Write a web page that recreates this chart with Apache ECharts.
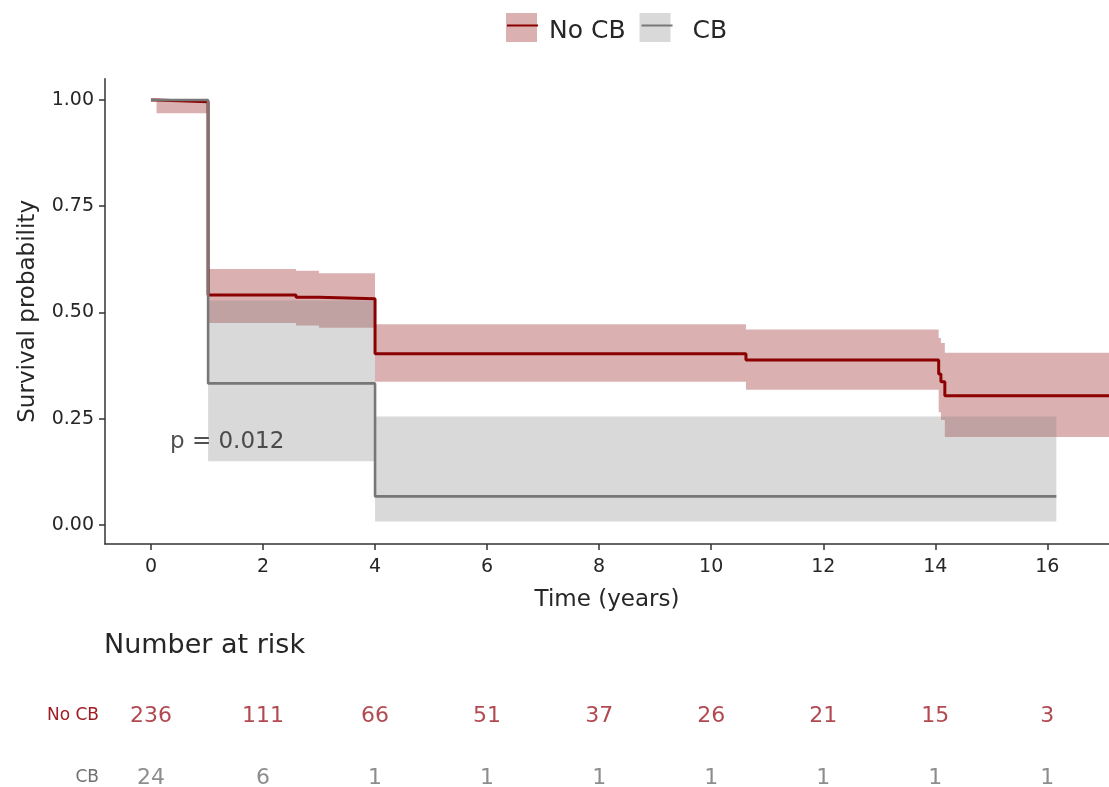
<!DOCTYPE html>
<html>
<head>
<meta charset="utf-8">
<script src="https://cdn.jsdelivr.net/npm/echarts@6.0.0/dist/echarts.min.js"></script>
<style>
  html, body { margin: 0; padding: 0; background: #fff; }
  #chart { width: 1109px; height: 787px; }
</style>
</head>
<body>
<div id="chart"></div>
<script>
// Kaplan-Meier estimates (time in years), step values hold until the next time point.
// The last entry of each group marks the end of follow-up.
const NOCB_TIME  = [0, 0.10, 1.02, 2.59, 3.00, 4.00, 10.62, 14.06, 14.10, 14.17, 17.10];
const NOCB_SURV  = [1.000, 0.996, 0.541, 0.536, 0.532, 0.403, 0.388, 0.355, 0.337, 0.304, 0.304];
const NOCB_LOWER = [1.000, 0.969, 0.475, 0.469, 0.464, 0.337, 0.318, 0.265, 0.247, 0.207, 0.207];
const NOCB_UPPER = [1.000, 1.000, 0.602, 0.598, 0.592, 0.472, 0.460, 0.440, 0.428, 0.405, 0.405];

const CB_TIME  = [0, 1.02, 4.00, 16.16];
const CB_SURV  = [1.000, 0.333, 0.067, 0.067];
const CB_LOWER = [1.000, 0.150, 0.008, 0.008];
const CB_UPPER = [1.000, 0.528, 0.255, 0.255];

// Number-at-risk table
const RISK_TIME = [0, 2, 4, 6, 8, 10, 12, 14, 16];
const RISK_NOCB = [236, 111, 66, 51, 37, 26, 21, 15, 3];
const RISK_CB   = [24, 6, 1, 1, 1, 1, 1, 1, 1];
const RISK_ROWS = ['CB', 'No CB'];   // row 0 at the bottom, row 1 above it

const X_TICKS = [0, 2, 4, 6, 8, 10, 12, 14, 16];
const Y_TICKS = [0, 0.25, 0.5, 0.75, 1];

const P_TEXT = 'p = 0.012';
const P_AT = [0.34, 0.195];

// styling
const FONT = 'DejaVu Sans';
const RED = '#8b0000';
const GRAY = '#777777';
const RED_BAND = 'rgba(139,0,0,0.31)';
const GRAY_BAND = 'rgba(128,128,128,0.30)';
const RED_TEXT = '#9e1c24';
const GRAY_TEXT = '#707070';
const INK = '#262626';
const CLEAR = 'rgba(0,0,0,0)';
const X_RANGE = [-0.82, 17.1];

const pts = (xs, ys) => xs.map((t, i) => [t, ys[i]]);

// Confidence band drawn as one stepped polygon (upper edge forward, lower edge back)
function bandSeries(name, times, lower, upper, color) {
  return {
    name: name, type: 'custom', silent: true, clip: true, z: 1,
    xAxisIndex: 0, yAxisIndex: 0,
    data: [[times[0], upper[0]]],
    renderItem: (params, api) => {
      const top = [], bottom = [];
      for (let i = 0; i < times.length - 1; i++) {
        top.push(api.coord([times[i], upper[i]]), api.coord([times[i + 1], upper[i]]));
        bottom.push(api.coord([times[i], lower[i]]), api.coord([times[i + 1], lower[i]]));
      }
      return {
        type: 'polygon',
        shape: { points: top.concat(bottom.reverse()) },
        style: { fill: color }
      };
    }
  };
}

// Legend: swatch layer, line layer and text layer share one layout
const legendBase = {
  left: 506, top: 13, orient: 'horizontal', padding: 0,
  itemWidth: 31, itemHeight: 29, itemGap: 14,
  selectedMode: false,
  textStyle: { fontFamily: FONT, fontSize: 25, color: CLEAR, padding: [0, 0, 0, 7] }
};
const CB_LEGEND_TEXT = { padding: [0, 0, 0, 17] };

const chart = echarts.init(document.getElementById('chart'), null, { renderer: 'canvas' });

chart.setOption({
  animation: false,
  backgroundColor: '#ffffff',
  title: {
    text: 'Number at risk', left: 104, top: 632, padding: 0,
    textStyle: { fontFamily: FONT, fontSize: 27, fontWeight: 'normal', color: INK }
  },
  legend: [
    Object.assign({}, legendBase, {
      icon: 'rect', symbolKeepAspect: false,
      itemStyle: { borderWidth: 0 },
      data: [
        { name: 'No CB', itemStyle: { color: RED_BAND } },
        { name: 'CB', itemStyle: { color: GRAY_BAND }, textStyle: CB_LEGEND_TEXT }
      ]
    }),
    Object.assign({}, legendBase, {
      itemStyle: { color: CLEAR, borderWidth: 0 },
      data: [
        { name: 'No CB' },
        { name: 'CB', textStyle: CB_LEGEND_TEXT }
      ]
    }),
    Object.assign({}, legendBase, {
      top: 17, icon: 'rect',
      itemStyle: { color: CLEAR, borderWidth: 0 },
      textStyle: Object.assign({}, legendBase.textStyle, { color: INK }),
      data: [
        { name: 'No CB' },
        { name: 'CB', textStyle: CB_LEGEND_TEXT }
      ]
    })
  ],
  grid: [
    { left: 105, right: 0, top: 78.75, bottom: 243 },
    { left: 105, right: 0, top: 683, bottom: 0 }
  ],
  xAxis: [
    {
      type: 'value', gridIndex: 0, min: X_RANGE[0], max: X_RANGE[1],
      axisLine: { show: true, onZero: false, lineStyle: { color: '#333', width: 1.5 } },
      axisTick: { show: true, length: 6, customValues: X_TICKS, lineStyle: { color: '#333', width: 1.5 } },
      axisLabel: { customValues: X_TICKS, fontFamily: FONT, fontSize: 19, color: INK, margin: 14 },
      splitLine: { show: false },
      name: 'Time (years)', nameLocation: 'middle', nameGap: 45,
      nameTextStyle: { fontFamily: FONT, fontSize: 23, color: INK }
    },
    { type: 'value', gridIndex: 1, min: X_RANGE[0], max: X_RANGE[1], show: false }
  ],
  yAxis: [
    {
      type: 'value', gridIndex: 0, min: -0.045, max: 1.05,
      axisLine: { show: true, onZero: false, lineStyle: { color: '#333', width: 1.5 } },
      axisTick: { show: true, length: 6, customValues: Y_TICKS, lineStyle: { color: '#333', width: 1.5 } },
      axisLabel: {
        customValues: Y_TICKS, formatter: v => v.toFixed(2),
        fontFamily: FONT, fontSize: 19, color: INK, margin: 11
      },
      splitLine: { show: false },
      name: 'Survival probability', nameLocation: 'middle', nameGap: 65,
      nameTextStyle: { fontFamily: FONT, fontSize: 23, color: INK }
    },
    {
      type: 'value', gridIndex: 1, min: -0.145, max: 1.532,
      axisLine: { show: false }, axisTick: { show: false }, splitLine: { show: false },
      axisLabel: {
        customValues: [0, 1], margin: 6,
        formatter: v => (v === 1 ? '{r|' + RISK_ROWS[1] + '}' : '{g|' + RISK_ROWS[0] + '}'),
        rich: {
          r: { fontFamily: FONT, fontSize: 17, color: RED_TEXT },
          g: { fontFamily: FONT, fontSize: 17, color: GRAY_TEXT }
        }
      }
    }
  ],
  series: [
    bandSeries('No CB 95% CI', NOCB_TIME, NOCB_LOWER, NOCB_UPPER, RED_BAND),
    bandSeries('CB 95% CI', CB_TIME, CB_LOWER, CB_UPPER, GRAY_BAND),
    {
      name: 'No CB', type: 'line', step: 'end', symbol: 'none', silent: true, z: 3,
      xAxisIndex: 0, yAxisIndex: 0,
      lineStyle: { color: RED, width: 3 }, itemStyle: { color: RED },
      data: pts(NOCB_TIME, NOCB_SURV)
    },
    {
      name: 'CB', type: 'line', step: 'end', symbol: 'none', silent: true, z: 3,
      xAxisIndex: 0, yAxisIndex: 0,
      lineStyle: { color: GRAY, width: 2.6 }, itemStyle: { color: GRAY },
      data: pts(CB_TIME, CB_SURV)
    },
    {
      name: 'p-value', type: 'scatter', symbolSize: 0, silent: true, z: 4,
      xAxisIndex: 0, yAxisIndex: 0,
      data: [P_AT],
      label: {
        show: true, position: 'right', distance: 0, formatter: P_TEXT,
        fontFamily: FONT, fontSize: 23, color: INK
      }
    },
    {
      name: 'risk No CB', type: 'scatter', symbolSize: 0, silent: true,
      xAxisIndex: 1, yAxisIndex: 1,
      data: RISK_TIME.map((t, i) => [t, 1, RISK_NOCB[i]]),
      label: {
        show: true, position: 'inside', formatter: p => String(p.value[2]),
        fontFamily: FONT, fontSize: 22, color: RED_TEXT
      }
    },
    {
      name: 'risk CB', type: 'scatter', symbolSize: 0, silent: true,
      xAxisIndex: 1, yAxisIndex: 1,
      data: RISK_TIME.map((t, i) => [t, 0, RISK_CB[i]]),
      label: {
        show: true, position: 'inside', formatter: p => String(p.value[2]),
        fontFamily: FONT, fontSize: 22, color: GRAY_TEXT
      }
    }
  ]
});
</script>
</body>
</html>
